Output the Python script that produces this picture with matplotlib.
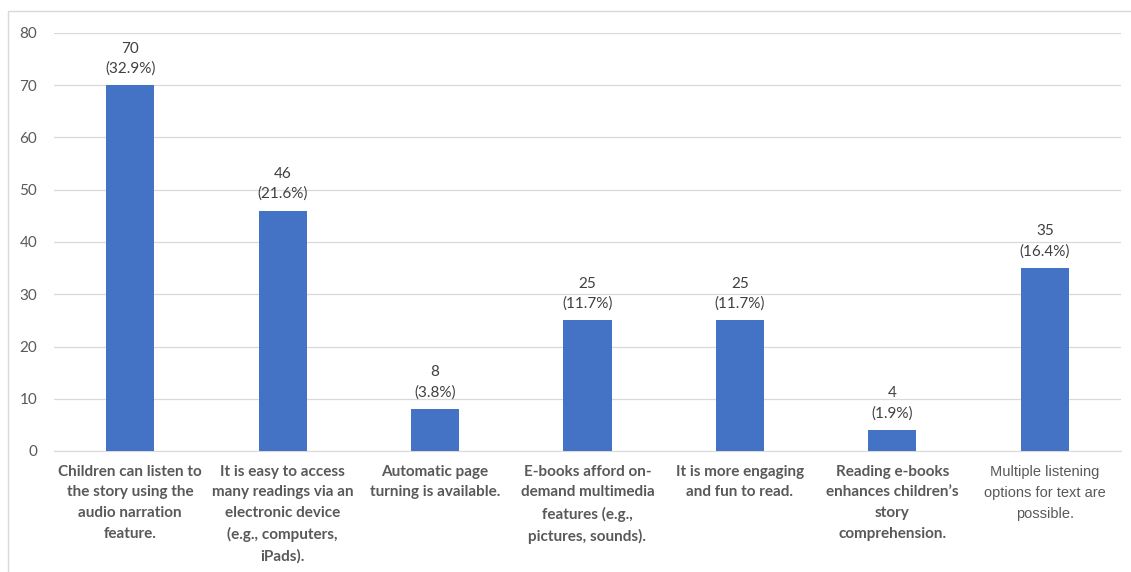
import matplotlib
matplotlib.use("Agg")
import matplotlib.pyplot as plt
from matplotlib.patches import Rectangle

categories = [
    "Children can listen to\nthe story using the\naudio narration\nfeature.",
    "It is easy to access\nmany readings via an\nelectronic device\n(e.g., computers,\niPads).",
    "Automatic page\nturning is available.",
    "E-books afford on-\ndemand multimedia\nfeatures (e.g.,\npictures, sounds).",
    "It is more engaging\nand fun to read.",
    "Reading e-books\nenhances children\u2019s\nstory\ncomprehension.",
    "Multiple listening\noptions for text are\npossible.",
]
counts = [70, 46, 8, 25, 25, 4, 35]
percents = ["32.9%", "21.6%", "3.8%", "11.7%", "11.7%", "1.9%", "16.4%"]
yticks = [0, 10, 20, 30, 40, 50, 60, 70, 80]

W, H = 1131, 572
fig = plt.figure(figsize=(W / 100, H / 100), dpi=100)
ax = fig.add_axes([54 / W, 1 - 451 / H, (1121 - 54) / W, (451 - 33) / H])

bar_color = "#4472C4"
text_color = "#595959"
x = list(range(len(counts)))
ax.bar(x, counts, width=0.315, color=bar_color, zorder=3)
ax.set_xlim(-0.5, len(counts) - 0.5)
ax.set_ylim(0, 80)
ax.set_yticks(yticks)
ax.set_yticklabels([str(t) for t in yticks], fontsize=11, color=text_color, family="Lato")
ax.yaxis.grid(True, color="#D9D9D9", linewidth=0.9, zorder=0)
for s in ax.spines.values():
    s.set_visible(False)
ax.spines["bottom"].set_visible(True)
ax.spines["bottom"].set_color("#D9D9D9")
ax.tick_params(axis="y", length=0, pad=12)
ax.tick_params(axis="x", length=0)
ax.set_xticks(x)
ax.set_xticklabels([])

for i, (c, p) in enumerate(zip(counts, percents)):
    ax.annotate(f"{c}\n({p})", (i, c), xytext=(0, 7), textcoords="offset points",
                ha="center", va="bottom", fontsize=11, color="#404040",
                family="Lato", linespacing=1.5)

for i, lab in enumerate(categories):
    last = i == len(categories) - 1
    ax.annotate(lab, (i, 0), xytext=(0, -10), textcoords="offset points",
                ha="center", va="top", fontsize=10.5 if last else 11,
                fontweight="normal" if last else "bold",
                family="Liberation Sans" if last else "Lato",
                color=text_color, linespacing=1.62 if last else 1.6)

fig.patches.append(Rectangle((8 / W, -0.1), (W - 8) / W + 0.1, 1.1 - 11 / H,
                             transform=fig.transFigure, fill=False,
                             edgecolor="#D9D9D9", linewidth=1.0))

fig.savefig("out.png", dpi=100)
